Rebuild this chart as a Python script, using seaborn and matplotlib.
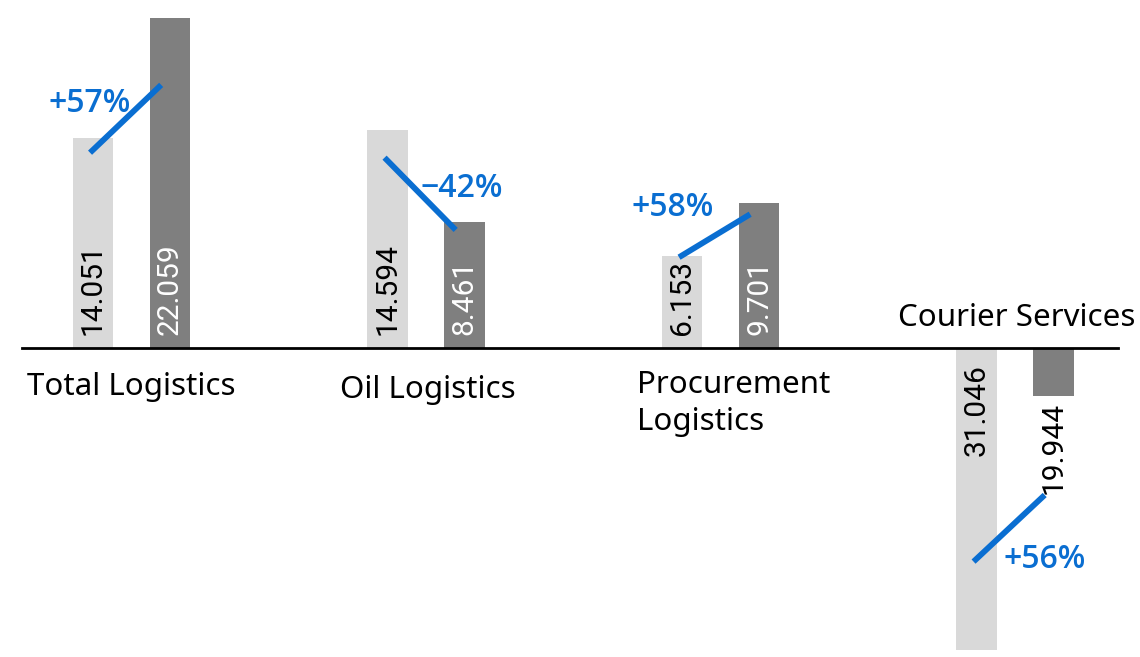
import os
import pandas as pd
import matplotlib
matplotlib.use("Agg")
import matplotlib.pyplot as plt
import seaborn as sns
from matplotlib import font_manager
from matplotlib.font_manager import FontProperties

# Chart data
categories = ["Total Logistics", "Oil Logistics", "Procurement\nLogistics", "Courier Services"]
prior_values = [14.051, 14.594, 6.153, 31.046]
current_values = [22.059, 8.461, 9.701, 19.944]
# courier services is a loss, drawn downward on a compressed scale in the source
prior_heights = [14.051, 14.594, 6.153, -20.1]
current_heights = [22.059, 8.461, 9.701, -3.2]
changes = ["+57%", "\u221242%", "+58%", "+56%"]
slope_start = [13.05, 12.72, 6.08, -14.21]
slope_end = [17.57, 7.9, 8.95, -9.77]

# Layout (annotation placement, relative to group centre)
cat_label_pos = [(-0.355, -3.1), (-0.292, -3.32), (-0.282, -5.43), (-0.397, 1.5)]
pct_pos = [(-0.2835, 15.77), (-0.018, 10.1), (-0.303, 8.83), (-0.0374, -14.63)]

LIGHT = "#d9d9d9"
DARK = "#7f7f7f"
BLUE = "#0a6ed1"


def pick_font(names):
    for n in names:
        try:
            font_manager.findfont(n, fallback_to_default=False)
            return n
        except ValueError:
            pass
    return "DejaVu Sans"


def pick_heavy_font(names, weight, size):
    # first family that really has a heavier face than regular
    for n in names:
        try:
            path = font_manager.findfont(FontProperties(family=n, weight=weight),
                                         fallback_to_default=False)
        except ValueError:
            continue
        base = os.path.basename(path).lower()
        if any(w in base for w in ("semibold", "medium", "bold")):
            return FontProperties(family=n, weight=weight, size=size)
    return FontProperties(family="DejaVu Sans", weight="bold", size=size - 2)


main_font = pick_font(["Noto Sans", "Open Sans", "DejaVu Sans"])
narrow_font = pick_font(["Liberation Sans Narrow", "Roboto", "DejaVu Sans"])
narrow_size = 24 if narrow_font == "Liberation Sans Narrow" else 21.5
pct_font = pick_heavy_font(["Open Sans", "Noto Sans", "Lato", "Roboto"], "semibold", 23)

df = pd.DataFrame({
    "category": categories * 2,
    "period": ["prior"] * 4 + ["current"] * 4,
    "height": prior_heights + current_heights,
})

fig = plt.figure(figsize=(11.4, 6.57), dpi=100)
ax = fig.add_axes([0, 0, 1, 1])

sns.barplot(
    data=df, x="category", y="height", hue="period", order=categories,
    hue_order=["prior", "current"], palette={"prior": LIGHT, "current": DARK},
    width=0.523, gap=0.48, errorbar=None, linewidth=0, legend=False, ax=ax,
)

ax.set_xlim(-0.4465, 3.4244)
ax.set_ylim(-20.57, 23.23)
ax.axis("off")
ax.axhline(0, xmin=0.0193, xmax=0.9807, color="black", lw=2, zorder=3)

# value labels inside / below the bars
for cont, vals, color in zip(ax.containers, [prior_values, current_values], ["black", "white"]):
    for bar, v in zip(cont, vals):
        xc = bar.get_x() + bar.get_width() / 2
        h = bar.get_height()
        if h >= 0:
            ax.text(xc, 0.87, f"{v:.3f}", rotation=90, ha="center", va="bottom",
                    fontsize=narrow_size, family=narrow_font, color=color, zorder=4)
        else:
            # label inside a long bar, below the end of a short one
            top = -1.03 if h < -7 else h - 0.37
            ax.text(xc, top, f"{v:.3f}", rotation=90, ha="center", va="top",
                    fontsize=narrow_size, family=narrow_font, color="black", zorder=4)

# slope lines and change labels
for i in range(len(categories)):
    pb = ax.containers[0][i]
    cb = ax.containers[1][i]
    x0 = pb.get_x() + pb.get_width() / 2 - 0.01
    x1 = cb.get_x() + cb.get_width() / 2 - 0.03
    ax.plot([x0, x1], [slope_start[i], slope_end[i]], color=BLUE, lw=4.2,
            solid_capstyle="butt", zorder=5)
    dx, y = pct_pos[i]
    ax.text(i + dx, y, changes[i], ha="left", va="baseline",
            fontproperties=pct_font, color=BLUE, zorder=6)

# category labels
for i, name in enumerate(categories):
    dx, y = cat_label_pos[i]
    ax.text(i + dx, y, name, ha="left", va="baseline", fontsize=22.5,
            family=main_font, color="black", linespacing=1.3)

fig.savefig("out.png", dpi=100)
